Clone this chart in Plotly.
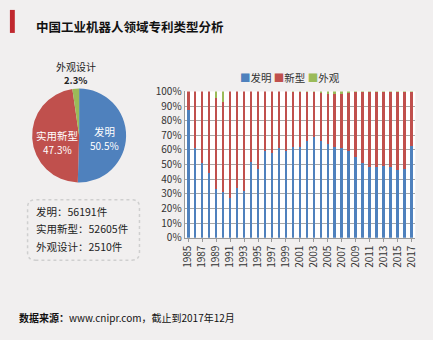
import plotly.graph_objects as go

# ---- data ----
years = [str(y) for y in range(1985, 2018)]
invention = [87, 61, 51, 44, 33, 31, 27, 34, 32, 52, 47, 59, 58, 61, 59, 62, 62, 66,
             69, 66, 64, 62, 61, 59, 55, 51, 48, 48, 49, 48, 46, 47, 63]
design = [0, 0, 0, 0, 4.5, 7, 0, 0, 0, 0, 0, 0, 0, 0, 0, 0.5, 0.5, 0.5,
          0.5, 1, 2, 2, 1.5, 1, 0.5, 0.5, 0.5, 0.5, 0.5, 0.5, 0.5, 0.5, 0.5]
utility = [round(100 - a - b, 1) for a, b in zip(invention, design)]
bar_names = ["发明", "新型", "外观"]

pie_labels = ["发明", "实用新型", "外观设计"]
pie_share = [50.5, 47.3, 2.3]
counts = [56191, 52605, 2510]
tick_years = years[::2]

title = "中国工业机器人领域专利类型分析"
source = "数据来源：www.cnipr.com，截止到2017年12月"

BLUE, RED, GREEN = "#4f81bd", "#c0504d", "#9bbb59"
COLORS = [BLUE, RED, GREEN]
BG = "#f1efef"
W, H = 433, 340
FONT = "Noto Sans CJK SC"

def px(x):
    return x / W

def py(y):
    return (H - y) / H

fig = go.Figure()
for name, vals, col in zip(bar_names, [invention, utility, design], COLORS):
    fig.add_trace(go.Bar(x=years, y=vals, name=name, marker=dict(color=col, line=dict(width=0)),
                         xaxis="x", yaxis="y", showlegend=False))

fig.add_trace(go.Pie(labels=pie_labels, values=pie_share, sort=False, direction="clockwise",
                     rotation=0, marker=dict(colors=COLORS, line=dict(width=0)),
                     textinfo="none", hoverinfo="label+percent", showlegend=False,
                     domain=dict(x=[px(26), px(125)], y=[py(182), py(84)])))

annotations = []
# title
annotations.append(dict(text="<b>" + title + "</b>", x=px(30), y=py(19), xref="paper", yref="paper",
                        xanchor="left", yanchor="middle", showarrow=False,
                        font=dict(size=12.5, color="#111", family=FONT)))
# compact legend for bar chart
legend_html = "&nbsp;".join(
    "<span style='color:%s'>■</span>%s" % (c, n) for c, n in zip(COLORS, bar_names))
annotations.append(dict(text=legend_html, x=px(290), y=py(72), xref="paper", yref="paper",
                        xanchor="center", yanchor="middle", showarrow=False,
                        font=dict(size=10.5, color="#333", family=FONT)))
# pie labels
pie_text = [
    (pie_labels[2], px(72), py(61), "#222", 10),
    ("<b>%.1f%%</b>" % pie_share[2], px(72), py(75), "#222", 9.5),
    (pie_labels[0], px(101), py(129), "white", 10.5),
    ("%.1f%%" % pie_share[0], px(101), py(143), "white", 10),
    (pie_labels[1], px(53), py(133), "white", 10.5),
    ("%.1f%%" % pie_share[1], px(53), py(148), "white", 10),
]
for t, x, y, c, s in pie_text:
    annotations.append(dict(text=t, x=x, y=y, xref="paper", yref="paper", showarrow=False,
                            xanchor="center", yanchor="middle", font=dict(size=s, color=c, family=FONT)))
# count box text
for i, (lab, c) in enumerate(zip(pie_labels, counts)):
    annotations.append(dict(text="%s：%d件" % (lab, c), x=px(30), y=py(212 + 18.3 * i),
                            xref="paper", yref="paper", showarrow=False, xanchor="left",
                            yanchor="middle", font=dict(size=10.5, color="#222", family=FONT)))
# source
annotations.append(dict(text="<b>数据来源：</b>" + source[5:], x=px(12), y=py(323), xref="paper",
                        yref="paper", showarrow=False, xanchor="left", yanchor="middle",
                        font=dict(size=10, color="#111", family=FONT)))

# rounded dashed box
x0, x1, y0, y1 = px(23), px(137), py(263), py(200)
rx, ry = 8 / W, 8 / H
path = (f"M{x0+rx},{y0} L{x1-rx},{y0} Q{x1},{y0} {x1},{y0+ry} L{x1},{y1-ry} "
        f"Q{x1},{y1} {x1-rx},{y1} L{x0+rx},{y1} Q{x0},{y1} {x0},{y1-ry} "
        f"L{x0},{y0+ry} Q{x0},{y0} {x0+rx},{y0} Z")
shapes = [
    dict(type="path", path=path, xref="paper", yref="paper",
         line=dict(color="#cfcfcf", width=1.5, dash="dot")),
    dict(type="rect", x0=px(5), x1=px(10), y0=py(26), y1=py(2), xref="paper", yref="paper",
         fillcolor="#c0282e", line=dict(width=0)),
]

fig.update_layout(
    width=W, height=H, margin=dict(l=0, r=0, t=0, b=0),
    paper_bgcolor=BG, plot_bgcolor="white",
    barmode="stack", bargap=0.6, showlegend=False,
    font=dict(family=FONT, size=10, color="#333"),
    xaxis=dict(domain=[px(183), px(418)], type="category", tickmode="array",
               tickvals=tick_years, ticktext=tick_years, tickangle=-90,
               tickfont=dict(size=10, color="#333"), showline=True, linecolor="#9a9a9a",
               ticks="outside", ticklen=3, tickcolor="#9a9a9a", showgrid=False, fixedrange=True),
    yaxis=dict(domain=[py(239.5), py(87)], range=[0, 100], dtick=10, ticksuffix="%",
               tickfont=dict(size=10, color="#333"), showgrid=True, gridcolor="#a8a8a8",
               gridwidth=1, showline=True, linecolor="#9a9a9a", ticks="", zeroline=False),
    annotations=annotations, shapes=shapes,
)

fig.write_html("out.html")
